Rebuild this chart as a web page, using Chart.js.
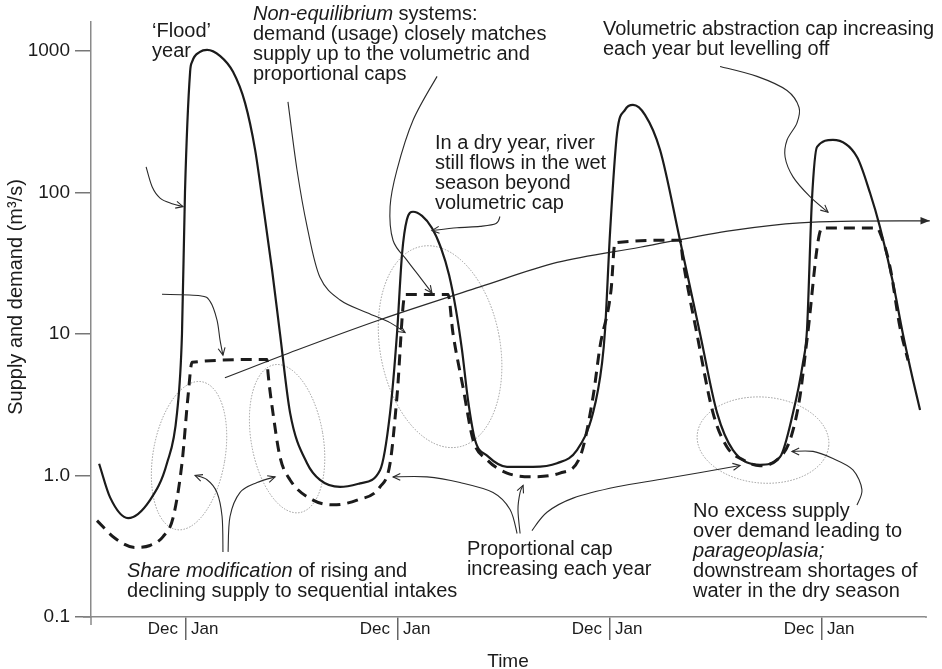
<!DOCTYPE html>
<html><head><meta charset="utf-8">
<script src="https://cdn.jsdelivr.net/npm/chart.js@4.4.1/dist/chart.umd.min.js"></script>
<style>html,body{margin:0;padding:0;background:#fff}</style>
</head><body>
<canvas id="c" width="942" height="669"></canvas>
<script>
// ---------- DATA (time in months from the first Dec|Jan boundary; flow in m3/s) ----------
const xMin = -5.38, xMax = 41.83;
const yMin = 0.1, yMax = 1600;
const yearBoundaries = [0, 12, 24, 36];
const boundaryLabels = [['Dec', 'Jan'], ['Dec', 'Jan'], ['Dec', 'Jan'], ['Dec', 'Jan']];
const yTickValues = [0.1, 1, 10, 100, 1000];
const yTickLabels = ['0.1', '1.0', '10', '100', '1000'];

// River supply (solid line)
const supplyTime = [-4.92, -4.3, -3.28, -2.04, -1.08, -0.51, -0.23, -0.06, 0.23, 0.34, 0.79, 1.19, 1.92, 2.66, 3.34, 3.91, 4.36, 4.87, 5.32, 5.89, 6.85, 7.58, 8.72, 9.85, 10.98, 11.55, 11.94, 12.23, 12.5, 12.85, 13.36, 13.92, 14.43, 14.89, 15.28, 15.62, 15.96, 16.36, 17.04, 18.17, 19.64, 21.0, 22.13, 23.04, 23.55, 23.72, 24.0, 24.4, 24.85, 25.3, 25.98, 26.83, 27.96, 29.1, 30.06, 30.96, 32.49, 33.62, 34.36, 34.92, 35.15, 35.43, 35.72, 36.62, 37.98, 38.72, 39.28, 40.02, 40.58, 41.15, 41.55];
const supplyFlow = [1.21, 0.70, 0.50, 0.67, 1.22, 2.77, 10, 100, 711, 836, 984, 1016, 922, 711, 429, 200, 81.6, 28.3, 10, 2.77, 1.22, 0.93, 0.83, 0.88, 1.09, 2.77, 10, 37, 64, 73, 68.2, 56.1, 40.6, 26.1, 14.8, 7.71, 3.42, 1.78, 1.38, 1.15, 1.15, 1.22, 1.51, 2.77, 6.24, 10.7, 51.7, 263, 383, 415, 353, 200, 46, 10, 2.77, 1.51, 1.19, 1.35, 2.77, 6.24, 10.7, 88.5, 210, 235, 178, 99, 57, 23, 10, 4.73, 2.9];

// Demand / usage (dashed line)
const demandTime = [-5.04, -4.02, -2.89, -2.04, -1.30, -0.74, -0.23, 0.11, 0.34, 4.58, 4.64, 4.92, 5.32, 5.89, 7.19, 8.32, 9.68, 10.98, 11.55, 11.94, 12.4, 14.83, 15.11, 15.68, 16.25, 17.04, 18.17, 19.64, 21.17, 22.3, 23.04, 23.43, 24.06, 24.28, 27.96, 28.13, 28.92, 29.83, 30.62, 31.53, 32.49, 33.45, 34.19, 34.75, 35.15, 36.0, 39.1, 39.28, 39.85, 40.41, 40.87];
const demandFlow = [0.48, 0.36, 0.31, 0.32, 0.37, 0.50, 1.22, 3.6, 6.3, 6.6, 5.3, 2.77, 1.35, 0.93, 0.67, 0.62, 0.67, 0.83, 1.22, 3.6, 19, 19, 10.1, 4.2, 1.78, 1.29, 1.04, 0.98, 1.04, 1.35, 3.6, 8.1, 20.5, 44, 46, 33, 10, 2.77, 1.59, 1.29, 1.17, 1.29, 1.78, 3.6, 9.1, 56, 56, 52, 29.7, 11.2, 6.5];

// Volumetric abstraction cap (thin line with arrow)
const capTime = [2.2, 6.28, 10.98, 16.64, 21.0, 25.7, 30.96, 34.75, 40.4, 42.1];
const capFlow = [4.9, 7.7, 12.6, 21.5, 32, 41, 54, 61, 63, 63];

// ---------- ANNOTATIONS (positions in [time, log10(flow)]) ----------
const noteTexts = [
  { at: [-1.92, 3.10], lines: [[["‘Flood’"]], [["year"]]] },
  { at: [3.79, 3.22], lines: [[["Non-equilibrium", 1], [" systems:"]], [["demand (usage) closely matches"]], [["supply up to the volumetric and"]], [["proportional caps"]]] },
  { at: [14.09, 2.31], lines: [[["In a dry year, river"]], [["still flows in the wet"]], [["season beyond"]], [["volumetric cap"]]] },
  { at: [23.60, 3.11], lines: [[["Volumetric abstraction cap increasing"]], [["each year but levelling off"]]] },
  { at: [-3.34, -0.72], lines: [[["Share modification", 1], [" of rising and"]], [["declining supply to sequential intakes"]]] },
  { at: [15.90, -0.56], lines: [[["Proportional cap"]], [["increasing each year"]]] },
  { at: [28.70, -0.29], lines: [[["No excess supply"]], [["over demand leading to"]], [["parageoplasia;", 1]], [["downstream shortages of"]], [["water in the dry season"]]] }
];
const notePointers = [
  [[-2.26, 2.18], [-1.92, 2.04], [-1.47, 1.96], [-0.79, 1.92], [-0.17, 1.90]],
  [[-1.36, 1.28], [0.79, 1.27], [1.36, 1.23], [1.75, 1.10], [1.92, 0.96], [2.09, 0.85]],
  [[5.77, 2.64], [6.28, 2.16], [6.85, 1.76], [7.58, 1.40], [8.72, 1.24], [10.25, 1.15], [11.55, 1.08], [12.40, 1.01]],
  [[14.21, 2.82], [12.85, 2.51], [11.94, 2.16], [11.55, 1.90], [11.72, 1.66], [12.51, 1.52], [13.25, 1.40], [13.92, 1.29]],
  [[17.77, 1.83], [17.55, 1.78], [16.64, 1.76], [15.34, 1.75], [13.92, 1.73]],
  [[30.23, 2.89], [32.32, 2.82], [34.02, 2.72], [34.70, 2.60], [34.58, 2.49], [34.02, 2.37], [33.91, 2.25], [34.36, 2.11], [35.32, 1.97], [36.34, 1.86]],
  [[2.09, -0.54], [2.04, -0.29], [1.75, -0.12], [1.19, -0.03], [0.51, 0.00]],
  [[2.38, -0.54], [2.49, -0.29], [3.06, -0.12], [4.02, -0.05], [5.04, -0.01]],
  [[18.74, -0.41], [18.34, -0.24], [17.38, -0.12], [15.51, -0.05], [13.64, -0.01], [11.72, -0.01]],
  [[18.91, -0.41], [18.79, -0.24], [18.91, -0.12], [19.08, -0.07]],
  [[19.58, -0.39], [20.43, -0.26], [21.91, -0.16], [24.40, -0.08], [27.23, -0.02], [31.36, 0.07]],
  [[37.98, -0.21], [38.26, -0.10], [37.75, 0.04], [36.62, 0.12], [35.49, 0.17], [34.30, 0.17]]
];
// dotted ellipses: centre [time, log10(flow)], radii (px), rotation (rad)
const noteEllipses = [
  { c: [0.17, 0.14], rx: 36, ry: 75, rot: 0.17 },
  { c: [5.72, 0.26], rx: 36, ry: 75, rot: -0.17 },
  { c: [14.38, 0.91], rx: 60, ry: 102, rot: -0.18 },
  { c: [32.66, 0.25], rx: 66, ry: 43, rot: 0.08 }
];

// ---------- CHART ----------
const FONT = '"Liberation Sans", Arial, Helvetica, sans-serif';
const INK = '#1b1b1b';
const toXY = (ts, vs) => ts.map((t, i) => ({ x: t, y: vs[i] }));

function smoothPath(ctx, pts) {
  ctx.moveTo(pts[0][0], pts[0][1]);
  for (let i = 0; i < pts.length - 1; i++) {
    const p0 = pts[Math.max(i - 1, 0)], p1 = pts[i], p2 = pts[i + 1], p3 = pts[Math.min(i + 2, pts.length - 1)];
    ctx.bezierCurveTo(p1[0] + (p2[0] - p0[0]) / 6, p1[1] + (p2[1] - p0[1]) / 6,
                      p2[0] - (p3[0] - p1[0]) / 6, p2[1] - (p3[1] - p1[1]) / 6, p2[0], p2[1]);
  }
}

const annotPlugin = {
  id: 'annot',
  beforeDatasetsDraw(chart) {
    const ctx = chart.ctx, xs = chart.scales.x, ys = chart.scales.y;
    ctx.save();
    ctx.strokeStyle = '#9a9a9a'; ctx.lineWidth = 1; ctx.setLineDash([1.5, 1.5]);
    noteEllipses.forEach(e => {
      ctx.beginPath();
      ctx.ellipse(xs.getPixelForValue(e.c[0]), ys.getPixelForValue(Math.pow(10, e.c[1])), e.rx, e.ry, e.rot, 0, Math.PI * 2);
      ctx.stroke();
    });
    ctx.restore();
  },
  afterDatasetsDraw(chart) {
    const ctx = chart.ctx, xs = chart.scales.x, ys = chart.scales.y;
    const P = p => [xs.getPixelForValue(p[0]), ys.getPixelForValue(Math.pow(10, p[1]))];
    ctx.save();
    ctx.strokeStyle = '#2a2a2a'; ctx.lineWidth = 1.1; ctx.setLineDash([]);
    notePointers.forEach(arr => {
      const pts = arr.map(P);
      ctx.beginPath(); smoothPath(ctx, pts); ctx.stroke();
      const a = pts[pts.length - 2], b = pts[pts.length - 1];
      const ang = Math.atan2(b[1] - a[1], b[0] - a[0]);
      ctx.beginPath();
      ctx.moveTo(b[0] - 8 * Math.cos(ang - 0.45), b[1] - 8 * Math.sin(ang - 0.45));
      ctx.lineTo(b[0], b[1]);
      ctx.lineTo(b[0] - 8 * Math.cos(ang + 0.45), b[1] - 8 * Math.sin(ang + 0.45));
      ctx.stroke();
    });
    const meta = chart.getDatasetMeta(2).data;
    const e1 = meta[meta.length - 1], e0 = meta[meta.length - 2];
    const ang = Math.atan2(e1.y - e0.y, e1.x - e0.x);
    ctx.fillStyle = '#2a2a2a';
    ctx.beginPath();
    ctx.moveTo(e1.x, e1.y);
    ctx.lineTo(e1.x - 10 * Math.cos(ang - 0.38), e1.y - 10 * Math.sin(ang - 0.38));
    ctx.lineTo(e1.x - 10 * Math.cos(ang + 0.38), e1.y - 10 * Math.sin(ang + 0.38));
    ctx.closePath(); ctx.fill();
    ctx.fillStyle = INK; ctx.textBaseline = 'alphabetic'; ctx.textAlign = 'left';
    noteTexts.forEach(n => {
      const [x0, y0] = P(n.at);
      n.lines.forEach((segs, li) => {
        let x = x0;
        segs.forEach(s => {
          ctx.font = (s[1] ? 'italic ' : '') + '20px ' + FONT;
          ctx.fillText(s[0], x, y0 + li * 20);
          x += ctx.measureText(s[0]).width;
        });
      });
    });
    ctx.restore();
  },
  afterDraw(chart) {
    const ctx = chart.ctx, xs = chart.scales.x, ca = chart.chartArea;
    ctx.save();
    ctx.strokeStyle = '#8a8a8a'; ctx.lineWidth = 1.5;
    ctx.beginPath();
    ctx.moveTo(ca.left - 8, ca.bottom); ctx.lineTo(ca.left, ca.bottom);
    ctx.moveTo(ca.right, ca.bottom); ctx.lineTo(ca.right + 2, ca.bottom);
    ctx.moveTo(ca.left, ca.bottom); ctx.lineTo(ca.left, ca.bottom + 8);
    ctx.stroke();
    ctx.fillStyle = INK; ctx.font = '17px ' + FONT; ctx.textBaseline = 'alphabetic';
    yearBoundaries.forEach((b, i) => {
      const px = xs.getPixelForValue(b);
      ctx.textAlign = 'right'; ctx.fillText(boundaryLabels[i][0], px - 8, ca.bottom + 17);
      ctx.textAlign = 'left'; ctx.fillText(boundaryLabels[i][1], px + 5, ca.bottom + 17);
    });
    ctx.font = '19px ' + FONT; ctx.textAlign = 'center';
    ctx.fillText('Time', (ca.left + ca.right) / 2, chart.height - 2);
    ctx.translate(22, ca.top + 275);
    ctx.rotate(-Math.PI / 2);
    ctx.font = '20px ' + FONT;
    ctx.fillText('Supply and demand (m³/s)', 0, 0);
    ctx.restore();
  }
};

new Chart(document.getElementById('c'), {
  type: 'line',
  data: {
    datasets: [
      { label: 'Supply', data: toXY(supplyTime, supplyFlow), borderColor: INK, borderWidth: 2.2,
        pointRadius: 0, cubicInterpolationMode: 'monotone', fill: false },
      { label: 'Demand', data: toXY(demandTime, demandFlow), borderColor: INK, borderWidth: 3,
        borderDash: [11, 7], pointRadius: 0, cubicInterpolationMode: 'monotone', fill: false },
      { label: 'Volumetric cap', data: toXY(capTime, capFlow), borderColor: '#2a2a2a', borderWidth: 1.2,
        pointRadius: 0, cubicInterpolationMode: 'monotone', fill: false, clip: false }
    ]
  },
  options: {
    responsive: false, animation: false, devicePixelRatio: 1,
    layout: { padding: { top: 22, right: 17, left: 0, bottom: 0 } },
    plugins: { legend: { display: false }, tooltip: { enabled: false } },
    scales: {
      x: {
        type: 'linear', min: xMin, max: xMax,
        afterBuildTicks: s => { s.ticks = yearBoundaries.map(v => ({ value: v })); },
        afterFit: s => { s.height = 52; },
        ticks: { display: false },
        grid: { drawOnChartArea: false, drawTicks: true, tickLength: 23, color: '#666', lineWidth: 1.5 },
        border: { display: true, color: '#8a8a8a', width: 1.5 }
      },
      y: {
        type: 'logarithmic', min: yMin, max: yMax,
        afterBuildTicks: s => { s.ticks = yTickValues.map(v => ({ value: v })); },
        afterFit: s => { s.width = 91; },
        ticks: {
          callback: v => { const i = yTickValues.indexOf(v); return i >= 0 ? yTickLabels[i] : ''; },
          font: { family: FONT, size: 19 }, color: INK, padding: 5, autoSkip: false
        },
        grid: { drawOnChartArea: false, drawTicks: true, tickLength: 16, color: '#777', lineWidth: 1.5 },
        border: { display: true, color: '#8a8a8a', width: 1.5 }
      }
    }
  },
  plugins: [annotPlugin]
});
</script>
</body></html>
